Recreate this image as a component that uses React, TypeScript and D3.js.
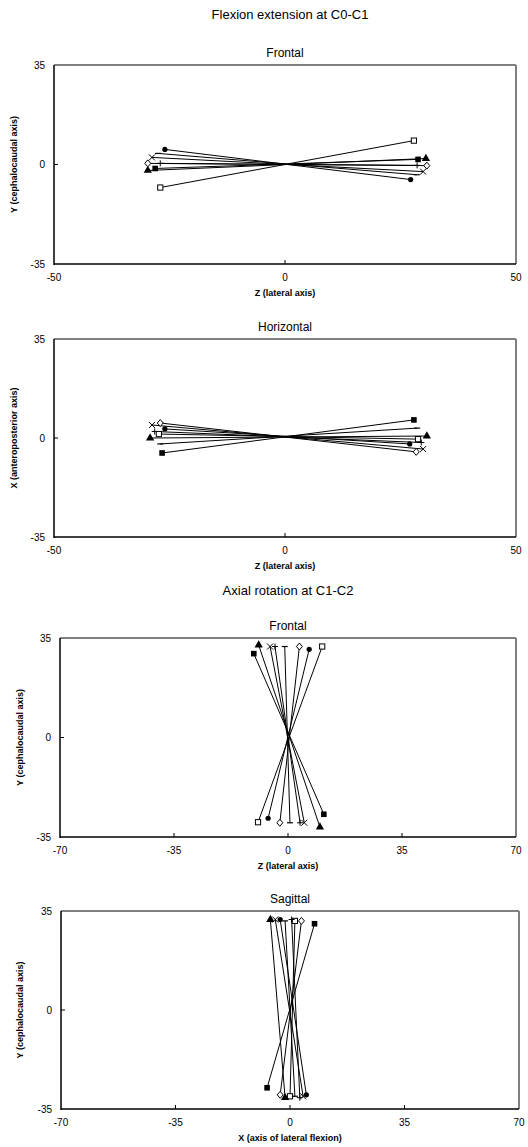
import React from "react";
import * as d3 from "d3";

// marker shapes, same order in every panel
const markerTypes = ["circle", "openSquare", "triangle", "openDiamond", "x", "square", "dash", "plus"];

// Flexion extension at C0-C1, frontal plane (Z, Y)
const c01FrontalLeft = [[-26, 5.3], [-27, -8.1], [-29.7, -2.1], [-29.7, 0.4], [-28.8, 2.5], [-28.1, -1.4], [-27.5, 3.9], [-27, 0.4]];
const c01FrontalRight = [[27.2, -5.3], [27.9, 8.4], [30.5, 2.1], [30.7, -0.4], [29.9, -2.5], [28.8, 1.8], [28.5, -3.6], [28.6, -0.3]];

// Flexion extension at C0-C1, horizontal plane (Z, X)
const c01HorizLeft = [[-26, 3.2], [-27.3, 1.4], [-29.2, 0], [-27, 5.3], [-28.8, 4.6], [-26.6, -5.3], [-27, -2.1], [-28.2, 2.3]];
const c01HorizRight = [[27, -2.1], [28.8, -0.4], [30.7, 0.7], [28.4, -4.9], [29.9, -3.9], [27.9, 6.4], [28.6, 3.5], [29.5, -1.6]];

// Axial rotation at C1-C2, frontal plane (Z, Y)
const c12FrontalTop = [[6.5, 31], [10.5, 32], [-9, 32.5], [3.5, 32], [-5.5, 32], [-10.5, 29.5], [-1, 32], [-4, 32]];
const c12FrontalBottom = [[-6.1, -28.4], [-9.2, -29.8], [9.8, -31.5], [-2.5, -30], [5, -30], [11, -27], [0.6, -30], [3.7, -30]];

// Axial rotation at C1-C2, sagittal plane (X, Y)
const c12SagTop = [[-3, 32], [1.5, 31.5], [-6, 32], [3.5, 31.5], [-4.5, 32], [7.5, 30.5], [-1.5, 31.5], [0.5, 32]];
const c12SagBottom = [[5, -30], [0, -30.5], [-1.5, -31], [-3, -30], [4, -30.5], [-7, -27.5], [1.5, -30.5], [3, -31]];

const zTicks = [-50, 0, 50];
const rotTicks = [-70, -35, 0, 35, 70];
const yTicks = [-35, 0, 35];

const font = "Liberation Sans, Arial, sans-serif";

const Marker = ({ type, x, y }) => {
  if (type === "circle") return <circle cx={x} cy={y} r={2.6} fill="black" />;
  if (type === "square") return <rect x={x - 2.8} y={y - 2.8} width={5.6} height={5.6} fill="black" />;
  if (type === "openSquare")
    return <rect x={x - 2.6} y={y - 2.6} width={5.2} height={5.2} fill="white" stroke="black" strokeWidth={1} />;
  if (type === "triangle")
    return <path d={d3.symbol(d3.symbolTriangle, 30)()} transform={`translate(${x},${y})`} fill="black" />;
  if (type === "openDiamond")
    return (
      <path d={`M${x},${y - 3.5}L${x + 3},${y}L${x},${y + 3.5}L${x - 3},${y}Z`} fill="white" stroke="black" strokeWidth={1} />
    );
  if (type === "x")
    return <path d={`M${x - 3},${y - 3}L${x + 3},${y + 3}M${x - 3},${y + 3}L${x + 3},${y - 3}`} stroke="black" strokeWidth={1} />;
  if (type === "dash") return <path d={`M${x - 3},${y}L${x + 3},${y}`} stroke="black" strokeWidth={1.2} />;
  return <path d={`M${x - 3},${y}L${x + 3},${y}M${x},${y - 3}L${x},${y + 3}`} stroke="black" strokeWidth={1} />;
};

const Panel = ({ top, bottom, left, right, xDomain, xTicks, title, xLabel, yLabel, yLabelX, starts, ends }) => {
  const x = d3.scaleLinear().domain(xDomain).range([left, right]);
  const y = d3.scaleLinear().domain([-35, 35]).range([bottom, top]);
  const cx = (left + right) / 2;
  return (
    <g fontFamily={font}>
      <text x={cx} y={top - 8} textAnchor="middle" fontSize={12}>{title}</text>
      <line x1={left} y1={top} x2={right} y2={top} stroke="#808080" strokeWidth={2} />
      <line x1={right} y1={top} x2={right} y2={bottom} stroke="#808080" strokeWidth={2} />
      <line x1={left} y1={top} x2={left} y2={bottom + 1} stroke="black" strokeWidth={1.5} />
      <line x1={left} y1={bottom} x2={right} y2={bottom} stroke="black" strokeWidth={1.5} />
      {xTicks.map(t => (
        <g key={t}>
          {t > xDomain[0] && t < xDomain[1] && (
            <line x1={x(t)} y1={bottom} x2={x(t)} y2={bottom - 4} stroke="black" />
          )}
          <text x={x(t)} y={bottom + 17} textAnchor="middle" fontSize={10}>{t}</text>
        </g>
      ))}
      {yTicks.map(t => (
        <g key={t}>
          {t === 0 && <line x1={left} y1={y(t)} x2={left + 4} y2={y(t)} stroke="black" />}
          <text x={left - 9} y={y(t) + 3.5} textAnchor="end" fontSize={10}>{t}</text>
        </g>
      ))}
      <text x={cx} y={bottom + 32} textAnchor="middle" fontSize={9} fontWeight="bold">{xLabel}</text>
      <text
        transform={`translate(${yLabelX},${(top + bottom) / 2}) rotate(-90)`}
        textAnchor="middle"
        fontSize={9}
        fontWeight="bold"
      >
        {yLabel}
      </text>
      {starts.map((s, i) => (
        <line key={"l" + i} x1={x(s[0])} y1={y(s[1])} x2={x(ends[i][0])} y2={y(ends[i][1])} stroke="black" strokeWidth={1} />
      ))}
      {starts.map((s, i) => (
        <g key={"m" + i}>
          <Marker type={markerTypes[i]} x={x(s[0])} y={y(s[1])} />
          <Marker type={markerTypes[i]} x={x(ends[i][0])} y={y(ends[i][1])} />
        </g>
      ))}
    </g>
  );
};

const App = () => (
  <svg width={528} height={1147} style={{ position: "absolute", left: 0, top: 0, background: "white" }}>
    <rect width={528} height={1147} fill="white" />
    <text x={290} y={19} textAnchor="middle" fontSize={13} fontFamily={font}>Flexion extension at C0-C1</text>
    <Panel top={65} bottom={264} left={54} right={516} xDomain={[-50, 50]} xTicks={zTicks}
      title="Frontal" xLabel="Z (lateral axis)" yLabel="Y (cephalocaudal axis)" yLabelX={17}
      starts={c01FrontalLeft} ends={c01FrontalRight} />
    <Panel top={339} bottom={537} left={54} right={516} xDomain={[-50, 50]} xTicks={zTicks}
      title="Horizontal" xLabel="Z (lateral axis)" yLabel="X (anteroposterior axis)" yLabelX={17}
      starts={c01HorizLeft} ends={c01HorizRight} />
    <text x={288} y={595} textAnchor="middle" fontSize={13} fontFamily={font}>Axial rotation at C1-C2</text>
    <Panel top={638} bottom={837} left={60} right={516} xDomain={[-70, 70]} xTicks={rotTicks}
      title="Frontal" xLabel="Z (lateral axis)" yLabel="Y (cephalocaudal axis)" yLabelX={23}
      starts={c12FrontalTop} ends={c12FrontalBottom} />
    <Panel top={911} bottom={1109} left={61} right={519} xDomain={[-70, 70]} xTicks={rotTicks}
      title="Sagittal" xLabel="X (axis of lateral flexion)" yLabel="Y (cephalocaudal axis)" yLabelX={23}
      starts={c12SagTop} ends={c12SagBottom} />
  </svg>
);

export default App;
